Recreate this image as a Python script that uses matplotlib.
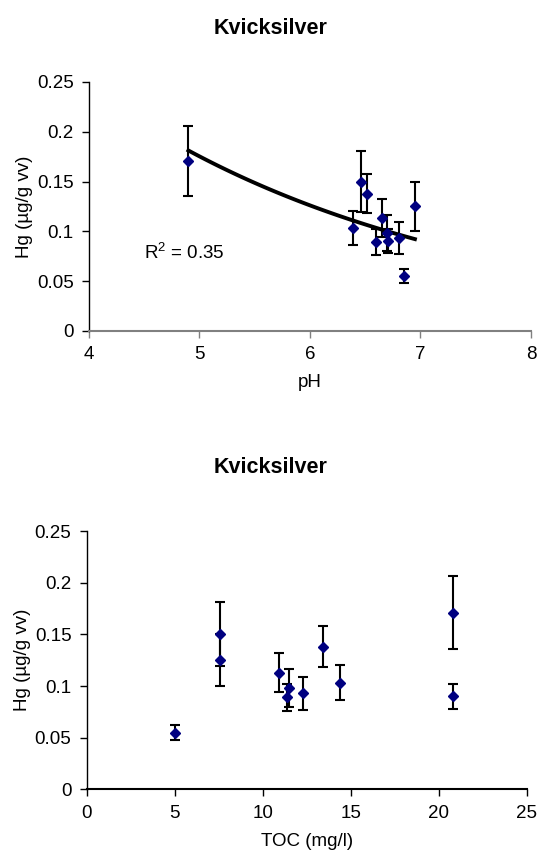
import matplotlib
matplotlib.use("Agg")
import matplotlib.pyplot as plt
import numpy as np

plt.rcParams["font.family"] = ["Liberation Sans", "DejaVu Sans"]
plt.rcParams["mathtext.fontset"] = "custom"
plt.rcParams["mathtext.rm"] = "Liberation Sans"

# measured values per sampling site
hg = [0.171, 0.150, 0.138, 0.103, 0.113, 0.089, 0.090, 0.098, 0.093, 0.055, 0.125]
hg_err = [0.035, 0.031, 0.020, 0.017, 0.019, 0.013, 0.012, 0.018, 0.016, 0.007, 0.025]
ph = [4.90, 6.46, 6.52, 6.39, 6.65, 6.60, 6.71, 6.70, 6.81, 6.85, 6.95]
toc = [20.8, 7.6, 13.4, 14.4, 10.9, 11.4, 20.8, 11.5, 12.3, 5.0, 7.6]

title = "Kvicksilver"
ylabel = "Hg (µg/g vv)"
r2_label = r"R$\mathregular{^2}$ = 0.35"

FS = 13.5
NAVY = "#000080"


def style_axes(ax, bottom_color):
    ax.spines["top"].set_visible(False)
    ax.spines["right"].set_visible(False)
    ax.spines["left"].set_color("black")
    ax.spines["bottom"].set_color(bottom_color)
    ax.spines["left"].set_linewidth(1.0)
    ax.spines["bottom"].set_linewidth(1.5)
    ax.tick_params(axis="both", direction="out", length=5, width=1.0,
                   labelsize=FS, pad=6)
    ax.tick_params(axis="x", color=bottom_color)
    ax.set_ylim(0, 0.25)
    ax.set_yticks([0, 0.05, 0.1, 0.15, 0.2, 0.25])
    ax.set_yticklabels(["0", "0.05", "0.1", "0.15", "0.2", "0.25"])
    ax.set_ylabel(ylabel, fontsize=FS, labelpad=3)


def draw_points(ax, x):
    ax.errorbar(x, hg, yerr=hg_err, fmt="D", color=NAVY, ms=5.6,
                ecolor="black", elinewidth=1.5, capsize=3.8, capthick=1.5,
                zorder=3)


fig = plt.figure(figsize=(5.37, 8.59), dpi=100)

# pH panel
ax1 = fig.add_axes([0.1657, 0.6147, 0.823, 0.2899])
style_axes(ax1, "#808080")
draw_points(ax1, ph)
# exponential trend line, least squares on log(Hg)
b, a = np.polyfit(ph, np.log(hg), 1)
xs = np.linspace(min(ph), max(ph), 100)
ax1.plot(xs, np.exp(a + b * xs), color="black", lw=2.8, zorder=2)
ax1.text(4.5, 0.078, r2_label, fontsize=FS, va="center")
ax1.set_xlim(4, 8)
ax1.set_xticks([4, 5, 6, 7, 8])
ax1.set_xlabel("pH", fontsize=FS, labelpad=8)

# TOC panel
ax2 = fig.add_axes([0.1615, 0.0811, 0.8194, 0.3007])
style_axes(ax2, "black")
draw_points(ax2, toc)
ax2.set_xlim(0, 25)
ax2.set_xticks([0, 5, 10, 15, 20, 25])
ax2.set_xlabel("TOC (mg/l)", fontsize=FS, labelpad=8)

fig.text(0.503, 1 - 28 / 859, title, ha="center", va="center",
         fontsize=15.5, fontweight="bold")
fig.text(0.503, 1 - 467 / 859, title, ha="center", va="center",
         fontsize=15.5, fontweight="bold")

fig.savefig("out.png", dpi=100)
